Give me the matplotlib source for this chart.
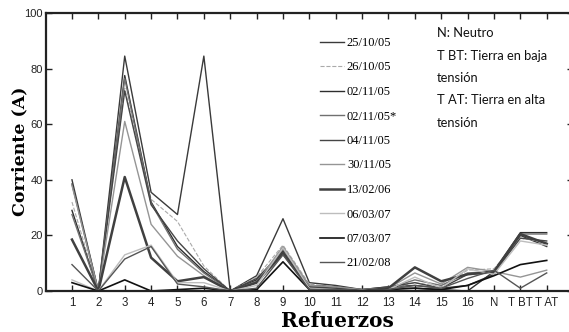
import matplotlib
matplotlib.use("Agg")
import matplotlib.pyplot as plt

# Refuerzos (x categories)
refuerzos = ["1", "2", "3", "4", "5", "6", "7", "8", "9", "10", "11", "12",
             "13", "14", "15", "16", "N", "T BT", "T AT"]

fechas = ["25/10/05", "26/10/05", "02/11/05", "02/11/05*", "04/11/05",
          "30/11/05", "13/02/06", "06/03/07", "07/03/07", "21/02/08"]

# corriente (A) por fecha
c_251005 = [40, 0, 84.5, 35.5, 27.5, 84.5, 0, 5.5, 26, 3, 2, 0.5, 1.5, 2, 1, 2, 6, 20, 16]
c_261005 = [32, 0, 73, 33, 25, 9, 0, 5, 16.5, 2.5, 1.5, 0.5, 1, 3, 1.5, 7.5, 8, 19, 17.5]
c_021105 = [29, 0, 77.5, 32, 16, 7, 0, 4, 14.5, 2, 1.5, 0.5, 1, 1, 0.5, 0, 7, 21, 21]
c_021105b = [27.5, 0, 76.5, 31.5, 15, 6.5, 0, 3.5, 15, 1.5, 1, 0.5, 1, 4, 2, 6.5, 7, 20.5, 20.5]
c_041105 = [38.5, 0, 72, 31, 18, 8, 0, 4.5, 14, 1.5, 1, 0.5, 1.5, 3, 1, 6, 6.5, 19, 18]
c_301105 = [38, 0, 61, 24, 12.5, 5.5, 0, 3, 16, 2, 1.5, 0.5, 1, 6.5, 2.5, 8.5, 7, 5, 7.5]
c_130206 = [18.5, 0, 41, 12, 3.5, 5, 0, 3, 13.5, 1, 0.5, 0, 1, 8.5, 3.5, 6, 7, 20.5, 17]
c_060307 = [4, 0, 13, 16.5, 3, 3, 0, 2, 15.5, 1, 0.5, 0, 0.5, 5, 1, 8, 6, 18, 16.5]
c_070307 = [3, 0, 4, 0, 0.5, 1, 0, 0.5, 10.5, 0.5, 0.3, 0, 0.5, 1, 0.5, 2, 5.5, 9.5, 11]
c_210208 = [9.5, 0, 11.5, 16, 2.5, 1.5, 0, 1, 13, 0.5, 0.5, 0, 0.5, 2, 1, 4.5, 7.5, 1, 6.5]

series = [c_251005, c_261005, c_021105, c_021105b, c_041105,
          c_301105, c_130206, c_060307, c_070307, c_210208]
colores = ["#3a3a3a", "#aaaaaa", "#2e2e2e", "#707070", "#454545",
           "#959595", "#404040", "#bdbdbd", "#111111", "#555555"]
estilos = ["-", "--", "-", "-", "-", "-", "-", "-", "-", "-"]
grosores = [1.0, 0.8, 1.0, 1.0, 1.0, 1.0, 1.8, 1.0, 1.2, 1.0]

fig = plt.figure(figsize=(5.69, 3.32), dpi=100)
ax = fig.add_axes([45.6 / 569, 41 / 332, 527.5 / 569, 278 / 332])

x = list(range(1, len(refuerzos) + 1))
for s, c, ls, lw, lab in zip(series, colores, estilos, grosores, fechas):
    ax.plot(x, s, color=c, linestyle=ls, linewidth=lw, label=lab)

ax.set_xlim(0, 20)
ax.set_ylim(0, 100)
ax.set_xticks(x)
ax.set_xticklabels(refuerzos, fontfamily="Liberation Sans", fontsize=8.3)
ax.set_yticks([0, 20, 40, 60, 80, 100])
ax.set_yticklabels(["0", "20", "40", "60", "80", "100"], fontfamily="Liberation Sans", fontsize=8)
ax.tick_params(direction="in", top=True, right=True, length=4, width=1, colors="#222222")
ax.tick_params(axis="y", pad=2)
ax.tick_params(axis="x", pad=4)
for sp in ax.spines.values():
    sp.set_linewidth(1.6)
    sp.set_color("#222222")

# axis titles placed like in the original figure
fig.text(20 / 569, 1 - 151 / 332, "Corriente (A)", fontfamily="DejaVu Serif",
         fontweight="bold", fontsize=12.5, rotation=90, ha="center", va="center")
fig.text(337 / 569, 1 - 327 / 332, "Refuerzos", fontfamily="DejaVu Serif",
         fontweight="bold", fontsize=14.5, ha="center", va="baseline")

leg = ax.legend(loc="upper left", bbox_to_anchor=(320 / 569, 1 - 37 / 332),
                bbox_transform=fig.transFigure, frameon=False,
                prop={"family": "Liberation Serif", "size": 9},
                handlelength=1.9, handletextpad=0.25, labelspacing=1.0,
                borderpad=0, borderaxespad=0)

fig.text(437 / 569, 1 - 27 / 332,
         "N: Neutro\nT BT: Tierra en baja\ntensión\nT AT: Tierra en alta\ntensión",
         fontfamily="Lato", fontsize=9.3, va="top", ha="left",
         linespacing=2.05, color="#111111")

fig.savefig("out.png", dpi=100)
